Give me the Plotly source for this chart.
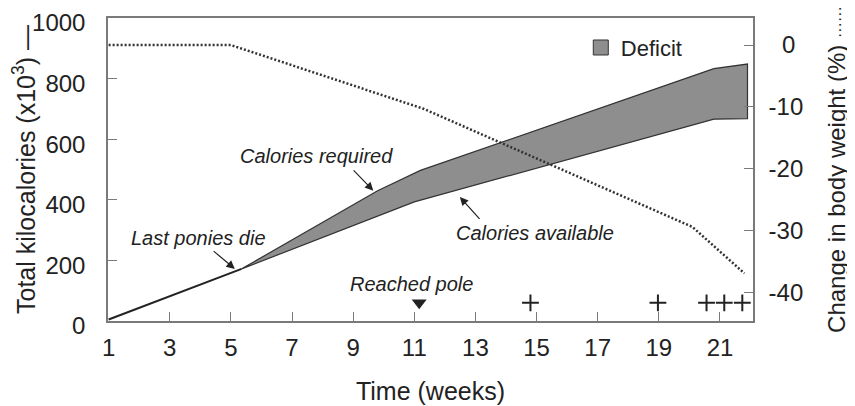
import plotly.graph_objects as go

FONT = "Liberation Sans, Arial, Helvetica, sans-serif"
INK = "#222222"
FRAME = "#7a7a7a"
DEFICIT = "#8e8e8e"

# cumulative energy (kcal x 10^3) by week
weeks_required = [1, 5.35, 9.8, 11.2, 20.8, 21.9]
kcal_required = [5, 172, 430, 497, 833, 848]
weeks_available = [1, 5.35, 11.0, 20.8, 21.9]
kcal_available = [5, 172, 393, 666, 668]

# change in body weight (%), right axis
weeks_weight = [1, 5.0, 11.3, 20.1, 21.8]
weight_pct = [0, 0, -10.3, -29.4, -36.9]

# deaths (+) and reaching the pole
weeks_deaths = [14.8, 18.97, 20.56, 21.14, 21.73]
week_pole = 11.16
marker_level = 60

week_ticks = [1, 3, 5, 7, 9, 11, 13, 15, 17, 19, 21]
kcal_ticks = [0, 200, 400, 600, 800, 1000]
weight_ticks = [0, -10, -20, -30, -40]
weight_labels = ["\u00a0\u00a00", "-10", "-20", "-30", "-40"]

split = weeks_required.index(5.35)
poly_x = weeks_required[split:] + weeks_available[split:][::-1]
poly_y = kcal_required[split:] + kcal_available[split:][::-1]

fig = go.Figure()

fig.add_trace(go.Scatter(
    x=poly_x, y=poly_y, fill="toself", fillcolor=DEFICIT,
    mode="lines", line=dict(color="#333333", width=1.2),
    showlegend=False, hoverinfo="skip",
))
# shared stretch before the ponies died
fig.add_trace(go.Scatter(
    x=weeks_available[:split + 1], y=kcal_available[:split + 1],
    mode="lines", line=dict(color=INK, width=2), showlegend=False,
))
fig.add_trace(go.Scatter(
    x=weeks_weight, y=weight_pct, yaxis="y2", mode="lines",
    line=dict(color="#333333", width=2.5, dash="2px,2px"), showlegend=False,
))
fig.add_trace(go.Scatter(
    x=weeks_deaths, y=[marker_level] * len(weeks_deaths), mode="markers",
    marker=dict(symbol="cross-thin", size=12, line=dict(color=INK, width=2)),
    showlegend=False,
))
fig.add_trace(go.Scatter(
    x=[week_pole], y=[marker_level], mode="markers",
    marker=dict(symbol="triangle-down", size=13, color=INK),
    showlegend=False,
))
# legend entry only
fig.add_trace(go.Scatter(
    x=[None], y=[None], mode="markers", name="Deficit",
    marker=dict(symbol="square", size=15, color=DEFICIT, line=dict(color="#333333", width=1)),
))

labels = [
    ("Last ponies die", 3.95, 275),
    ("Calories required", 7.8, 545),
    ("Calories available", 14.95, 292),
    ("Reached pole", 10.91, 122),
]
for text, x, y in labels:
    fig.add_annotation(x=x, y=y, text=f"<i>{text}</i>", showarrow=False,
                       font=dict(family=FONT, size=20, color=INK))

# arrows: (tail week, tail kcal, tip week, tip kcal)
arrows = [
    (4.37, 236, 5.13, 172),
    (8.95, 504, 9.66, 430),
    (13.2, 330, 12.49, 409),
]
for ax, ay, x, y in arrows:
    fig.add_annotation(x=x, y=y, ax=ax, ay=ay, axref="x", ayref="y", text=" ",
                       showarrow=True, arrowhead=2, arrowsize=1.4, arrowwidth=1.2,
                       arrowcolor=INK, font=dict(size=2))

axis_font = dict(family=FONT, size=24, color=INK)
title_font = dict(family=FONT, size=25, color=INK)

# the page body adds an 8px offset, so the figure is 8px smaller than the window
fig.update_layout(
    width=847, height=398,
    margin=dict(l=100, r=102, t=10, b=85, autoexpand=False),
    plot_bgcolor="white", paper_bgcolor="white",
    font=dict(family=FONT, color=INK),
    legend=dict(x=0.733, y=0.902, xanchor="left", yanchor="middle",
                font=dict(family=FONT, size=22, color=INK), bgcolor="rgba(0,0,0,0)"),
    xaxis=dict(
        range=[0.98, 22.08], tickvals=week_ticks, ticks="inside", ticklen=9,
        tickcolor=FRAME, showline=True, linecolor=FRAME, linewidth=1.5, mirror=True,
        showgrid=False, zeroline=False, tickfont=axis_font, ticklabelstandoff=4,
        automargin=False, ticklabeloverflow="allow",
        title=dict(text="Time (weeks)", font=title_font, standoff=23),
    ),
    yaxis=dict(
        range=[0, 1000], tickvals=kcal_ticks, ticks="inside", ticklen=9,
        tickcolor=FRAME, showline=True, linecolor=FRAME, linewidth=1.5,
        showgrid=False, zeroline=False, tickfont=axis_font, ticklabelstandoff=16,
        ticklabelshift=5, automargin=False, ticklabeloverflow="allow",
        title=dict(text="Total kilocalories (x10<sup>3</sup>) \u2014", font=title_font, standoff=0),
    ),
    yaxis2=dict(
        range=[-44.6, 4.37], tickvals=weight_ticks, ticktext=weight_labels,
        overlaying="y", side="right",
        ticks="inside", ticklen=9, tickcolor=FRAME, showline=True, linecolor=FRAME,
        linewidth=1.5, showgrid=False, zeroline=False, tickfont=axis_font,
        ticklabelstandoff=9, automargin=False, ticklabeloverflow="allow",
        title=dict(text="Change in body weight (%) "
                        "<span style='font-size:16px'>\u00b7\u00b7\u00b7\u00b7\u00b7\u00b7</span>",
                   font=dict(family=FONT, size=24, color=INK), standoff=26),
    ),
)

fig.write_html("out.html")
